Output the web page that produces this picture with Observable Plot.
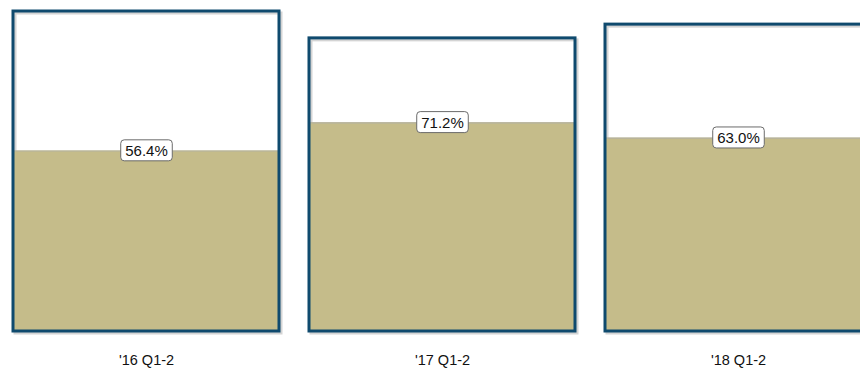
<!DOCTYPE html>
<html>
<head>
<meta charset="utf-8">
<script src="https://cdn.jsdelivr.net/npm/d3@7"></script>
<script src="https://cdn.jsdelivr.net/npm/@observablehq/plot@0.6"></script>
<style>
  html, body { margin: 0; padding: 0; background: #fff; overflow: hidden; }
  #chart svg { font-family: "Liberation Sans", Arial, sans-serif; display: block; }
</style>
</head>
<body>
<div id="chart"></div>
<script>
// Half-year periods
const periods = ["'16 Q1-2", "'17 Q1-2", "'18 Q1-2"];
// Container size for each period (relative scale, first period = 100)
const capacity = [100, 91.6, 95.9];
// Share filled, in percent
const filledPct = [56.4, 71.2, 63.0];

const data = periods.map((p, i) => ({
  period: p,
  capacity: capacity[i],
  pct: filledPct[i],
  level: capacity[i] * filledPct[i] / 100
}));

const fillColor = "#c5bc8a";
const boxColor = "#0f4a6e";

const chart = Plot.plot({
  width: 860,
  height: 371,
  marginTop: 11,
  marginBottom: 40,
  marginLeft: 0,
  marginRight: 0,
  x: {domain: periods, range: [13, 871], paddingInner: 0.1014, paddingOuter: 0, label: null},
  y: {domain: [0, 100], axis: null},
  marks: [
    // soft drop shadow of each container
    Plot.rectY(data, {x: "period", y1: 0, y2: "capacity", fill: "none", stroke: "#d4d4d4", strokeWidth: 3, dx: 2, dy: 2}),
    // filled portion
    Plot.rectY(data, {x: "period", y1: 0, y2: "level", fill: fillColor}),
    // surface line of the fill
    Plot.tickY(data, {x: "period", y: "level", stroke: "#b3b19f", strokeWidth: 1.2}),
    // container outline
    Plot.rectY(data, {x: "period", y1: 0, y2: "capacity", fill: "none", stroke: boxColor, strokeWidth: 3}),
    // value labels on the fill line
    Plot.text(data, {
      x: "period", y: "level",
      text: d => d.pct.toFixed(1) + "%",
      fontSize: 15, fill: "#111",
      className: "value-label"
    }),
    Plot.axisX({tickSize: 0, tickPadding: 23, fontSize: 14.5, fill: "#111", label: null})
  ]
});

document.getElementById("chart").append(chart);

// Rounded white boxes behind the value labels, sharing each label's transform
chart.querySelectorAll(".value-label text").forEach(t => {
  const b = t.getBBox();
  const padX = 4.5, w = b.width + padX * 2, h = 21;
  const cy = b.y + b.height / 2;
  const r = document.createElementNS("http://www.w3.org/2000/svg", "rect");
  r.setAttribute("x", b.x - padX);
  r.setAttribute("y", cy - h / 2);
  r.setAttribute("width", w);
  r.setAttribute("height", h);
  r.setAttribute("rx", 3.5);
  r.setAttribute("fill", "#fff");
  r.setAttribute("stroke", "#6b6b6b");
  r.setAttribute("stroke-width", 1);
  const tf = t.getAttribute("transform");
  if (tf) r.setAttribute("transform", tf);
  t.parentNode.insertBefore(r, t);
});
</script>
</body>
</html>
